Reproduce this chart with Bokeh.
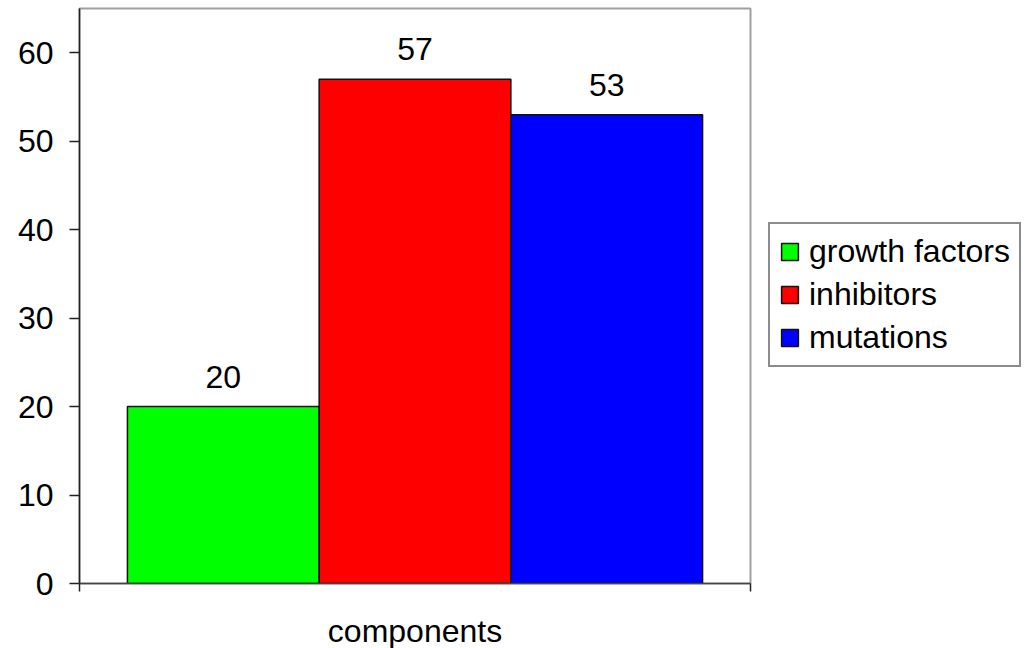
import numpy as np
from bokeh.plotting import figure
from bokeh.models import ColumnDataSource, Range1d, FixedTicker, Legend, LegendItem
from bokeh.core.properties import value
from bokeh.embed import file_html
from bokeh.resources import INLINE

# Counts per component type
series = ["growth factors", "inhibitors", "mutations"]
counts = [20, 57, 53]
colors = ["#00ff00", "#ff0000", "#0000ff"]
y_ticks = [0, 10, 20, 30, 40, 50, 60]
x_title = "components"

FONT = "Liberation Sans"
FS = "32px"

xs = np.arange(len(series))
source = ColumnDataSource(dict(x=xs, top=counts, series=series, color=colors,
                               label=[str(c) for c in counts]))

p = figure(frame_width=671, frame_height=575,
           min_border_left=79, min_border_right=277,
           min_border_top=8, min_border_bottom=64,
           x_range=Range1d(-0.75, len(series) - 0.25),
           y_range=Range1d(0, 65),
           output_backend="svg", toolbar_location=None)

p.background_fill_color = "white"
p.border_fill_color = "white"
p.outline_line_color = "#a0a0a0"
p.outline_line_width = 2
p.xgrid.visible = False
p.ygrid.visible = False

r = p.vbar(x="x", top="top", width=1.0, bottom=0, source=source,
           fill_color="color", line_color="#111111", line_width=1.5)

# value labels above each bar
p.text(x="x", y="top", text="label", source=source,
       text_align="center", text_baseline="alphabetic", y_offset=-30,
       text_font=value(FONT), text_font_size=FS, text_color="black")

# y axis
ya = p.yaxis[0]
ya.ticker = FixedTicker(ticks=y_ticks)
ya.minor_tick_line_color = None
ya.major_tick_in = 0
ya.major_tick_out = 10
ya.major_tick_line_color = "#222222"
ya.major_tick_line_width = 1.5
ya.axis_line_color = "#222222"
ya.axis_line_width = 1.5
ya.major_label_standoff = 16
ya.major_label_text_font = FONT
ya.major_label_text_font_size = FS
ya.major_label_text_color = "black"

# x axis: ticks only at the frame edges, no tick labels
x_edges = [-0.75, len(series) - 0.25]
xa = p.xaxis[0]
xa.ticker = FixedTicker(ticks=x_edges)
xa.major_label_overrides = {t: "" for t in x_edges}
xa.minor_tick_line_color = None
xa.major_tick_in = 0
xa.major_tick_out = 8
xa.major_tick_line_color = "#222222"
xa.major_tick_line_width = 1.5
xa.axis_line_color = "#444444"
xa.axis_line_width = 1.5
xa.major_label_text_font_size = "4px"
xa.major_label_standoff = 0
xa.axis_label = x_title
xa.axis_label_text_font = FONT
xa.axis_label_text_font_size = FS
xa.axis_label_text_font_style = "normal"
xa.axis_label_text_color = "black"
xa.axis_label_standoff = 21

# legend to the right of the plot area
lg = Legend(items=[LegendItem(label=value(s), renderers=[r], index=i)
                   for i, s in enumerate(series)])
lg.location = (18, 216)
lg.border_line_color = "#1a1a1a"
lg.border_line_width = 2
lg.background_fill_color = "white"
lg.label_text_font = FONT
lg.label_text_font_size = FS
lg.label_text_color = "black"
lg.glyph_width = 21
lg.glyph_height = 21
lg.label_standoff = 9
lg.label_height = 30
lg.spacing = 6
lg.padding = 9
lg.margin = 0
p.add_layout(lg, "right")

open("out.html", "w").write(file_html(p, INLINE))
